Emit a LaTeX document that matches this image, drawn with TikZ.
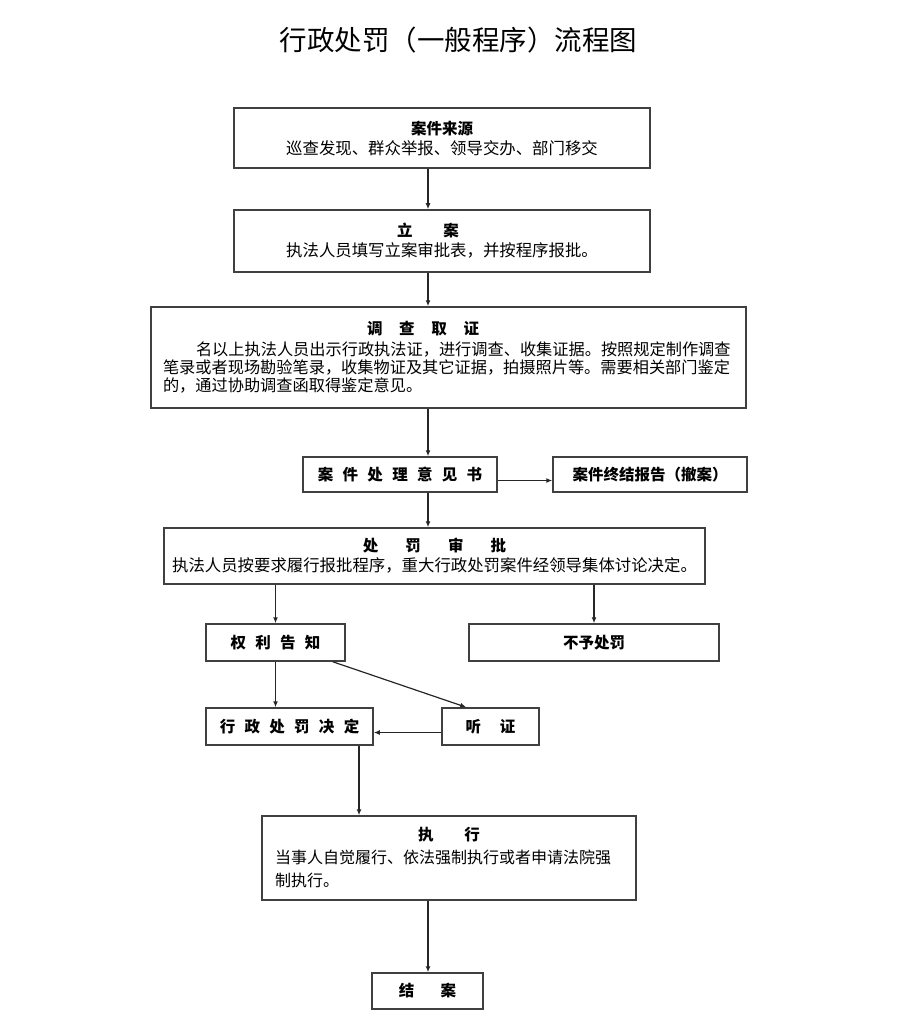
\documentclass[tikz,border=0pt]{standalone}
\usepackage{fontspec}
\setmainfont{Noto Sans CJK SC}
\usepackage{tikz}
\usetikzlibrary{arrows.meta}
\newcommand{\fs}{\fontsize{16.4}{20}\selectfont}
\newcommand{\hd}[1]{{\bfseries\fontsize{15.5}{20}\selectfont #1}}
\tikzset{
  box/.style ={draw=black!75, line width=1.5pt, fill=white, align=center,
               inner sep=0pt, font=\fs},
  arr/.style ={-{Latex[length=6pt,width=5pt]}, draw=black!85, line width=1.2pt},
}

\begin{document}
\begin{tikzpicture}[x=1pt,y=-1pt]
\useasboundingbox (0,0) rectangle (916,1032);
\node[font=\fontsize{27.5}{30}\selectfont] (title) at (458.5,40) {行政处罚（一般程序）流程图};

% main column
\node[box, minimum width=416pt, minimum height=60pt] (src) at (442,138)
  {\hd{案件来源}\\巡查发现、群众举报、领导交办、部门移交};
\node[box, minimum width=416pt, minimum height=62pt] (file) at (442,241)
  {\hd{立\hspace{2em}案}\hspace*{28pt}\\执法人员填写立案审批表，并按程序报批。};
\node[box, minimum width=595pt, minimum height=101pt, text width=571pt, align=left,
      font=\fontsize{16.2}{18}\selectfont] (invest) at (448.5,357.5)
  {\hspace*{204pt}\hd{调\hspace{1.08em}查\hspace{1.08em}取\hspace{1.08em}证}\\[3pt]
   \hspace*{33pt}名以上执法人员出示行政执法证，进行调查、收集证据。按照规定制作调查\\
   笔录或者现场勘验笔录，收集物证及其它证据，拍摄照片等。需要相关部门鉴定\\
   的，通过协助调查函取得鉴定意见。};
\node[box, minimum width=194pt, minimum height=35pt] (opinion) at (400,474.5)
  {\hd{案\hspace{.6em}件\hspace{.6em}处\hspace{.6em}理\hspace{.6em}意\hspace{.6em}见\hspace{.6em}书}};
\node[box, minimum width=194pt, minimum height=35pt] (closerep) at (650,474.5)
  {\hd{案件终结报告（撤案）}};
\node[box, minimum width=541pt, minimum height=56pt] (approve) at (434.5,556)
  {\hd{处\hspace{1.75em}罚\hspace{1.75em}审\hspace{1.75em}批}\\
   执法人员按要求履行报批程序，重大行政处罚案件经领导集体讨论决定。};

% branches
\node[box, minimum width=139pt, minimum height=37pt] (notify) at (275.5,642.5)
  {\hd{权\hspace{.6em}利\hspace{.6em}告\hspace{.6em}知}};
\node[box, minimum width=250pt, minimum height=37pt] (nopen) at (594,642.5)
  {\hd{不予处罚}};
\node[box, minimum width=167pt, minimum height=37pt] (decide) at (289.5,726.5)
  {\hd{行\hspace{.6em}政\hspace{.6em}处\hspace{.6em}罚\hspace{.6em}决\hspace{.6em}定}};
\node[box, minimum width=97pt, minimum height=37pt] (hear) at (490.5,726.5)
  {\hd{听\hspace{1.2em}证}};
\node[box, minimum width=374pt, minimum height=84pt, text width=348pt, align=left,
      font=\fontsize{16}{23}\selectfont] (exec) at (449,858)
  {\hfill\hd{执\hspace{2em}行}\hfill\null\\
   当事人自觉履行、依法强制执行或者申请法院强\\制执行。};
\node[box, minimum width=111pt, minimum height=36pt] (close) at (427.5,991)
  {\hd{结\hspace{1.7em}案}};

% connectors
\coordinate (spine) at (428,0);
\coordinate (drop) at (359,0);
\draw[arr] (src.south -| spine) -- (file.north -| spine);
\draw[arr] (file.south -| spine) -- (invest.north -| spine);
\draw[arr] (invest.south -| spine) -- (opinion.north -| spine);
\draw[arr] ([yshift=-6pt]opinion.east) -- ([yshift=-6pt]closerep.west);
\draw[arr] (opinion.south -| spine) -- (approve.north -| spine);
\draw[arr] (approve.south -| notify) -- (notify.north);
\draw[arr] (approve.south -| nopen) -- (nopen.north);
\draw[arr] (notify.south) -- (notify.south |- decide.north);
\draw[arr] ([xshift=-13pt]notify.south east) -- ([xshift=25pt]hear.north west);
\draw[arr] ([yshift=-6pt]hear.west) -- ([yshift=-6pt]decide.east);
\draw[arr] (decide.south -| drop) -- (exec.north -| drop);
\draw[arr] (exec.south -| spine) -- (close.north -| spine);
\end{tikzpicture}
\end{document}
